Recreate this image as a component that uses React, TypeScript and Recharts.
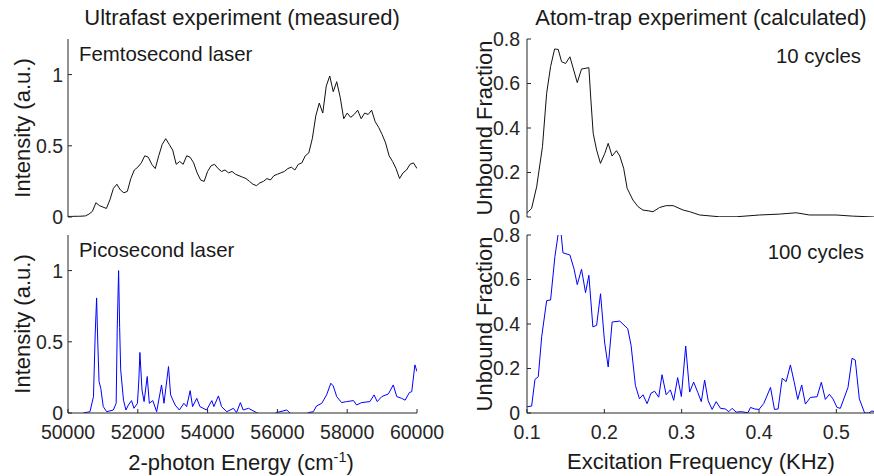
import React from "react";
import { LineChart, Line, XAxis, YAxis } from "recharts";

const FONT = '"Liberation Sans", Arial, Helvetica, sans-serif';
const INK = "#262626";

const energyTicks = [50000, 52000, 54000, 56000, 58000, 60000];
const freqTicks = [0.1, 0.2, 0.3, 0.4, 0.5];
const intensityTicks = [0, 0.5, 1];
const fractionTicks = [0, 0.2, 0.4, 0.6, 0.8];

// femtosecond laser spectrum (measured)
const femtoEnergy = [
  50000, 50100, 50200, 50300, 50400, 50500, 50600, 50700, 50800, 50900,
  51000, 51100, 51200, 51300, 51400, 51500, 51600, 51700, 51800, 51900,
  52000, 52100, 52200, 52300, 52400, 52500, 52600, 52700, 52800, 52900,
  53000, 53100, 53200, 53300, 53400, 53500, 53600, 53700, 53800, 53900,
  54000, 54100, 54200, 54300, 54400, 54500, 54600, 54700, 54800, 54900,
  55000, 55100, 55200, 55300, 55400, 55500, 55600, 55700, 55800, 55900,
  56000, 56100, 56200, 56300, 56400, 56500, 56600, 56700, 56800, 56900,
  57000, 57100, 57200, 57300, 57400, 57500, 57600, 57700, 57800, 57900,
  58000, 58100, 58200, 58300, 58400, 58500, 58600, 58700, 58800, 58900,
  59000, 59100, 59200, 59300, 59400, 59500, 59600, 59700, 59800, 59900,
  60000,
];
const femtoIntensity = [
  0.004, 0.004, 0.005, 0.005, 0.006, 0.008, 0.02, 0.04, 0.1, 0.08,
  0.07, 0.06, 0.12, 0.2, 0.23, 0.19, 0.17, 0.18, 0.27, 0.33,
  0.35, 0.38, 0.43, 0.42, 0.37, 0.34, 0.43, 0.51, 0.55, 0.51,
  0.47, 0.37, 0.39, 0.37, 0.43, 0.42, 0.38, 0.31, 0.26, 0.25,
  0.32, 0.36, 0.37, 0.34, 0.32, 0.33, 0.31, 0.32, 0.3, 0.29,
  0.28, 0.27, 0.25, 0.23, 0.22, 0.24, 0.25, 0.27, 0.26, 0.29,
  0.3, 0.31, 0.32, 0.34, 0.35, 0.33, 0.37, 0.38, 0.43, 0.45,
  0.55, 0.71, 0.8, 0.73, 0.92, 0.99, 0.88, 0.95, 0.84, 0.69,
  0.73, 0.7, 0.72, 0.75, 0.69, 0.73, 0.72, 0.75, 0.67, 0.63,
  0.58, 0.52, 0.43, 0.39, 0.34, 0.27, 0.31, 0.33, 0.37, 0.38,
  0.34,
];

// picosecond laser spectrum (measured)
const picoEnergy = [
  50000, 50400, 50440, 50630, 50730, 50780, 50820, 50850, 50890, 50940,
  51010, 51110, 51300, 51380, 51410, 51450, 51480, 51510, 51590, 51660,
  51730, 51820, 51890, 51990, 52030, 52060, 52120, 52180, 52270, 52330,
  52430, 52540, 52680, 52750, 52880, 52940, 53070, 53190, 53320, 53400,
  53500, 53570, 53690, 53780, 53970, 54120, 54180, 54310, 54400, 54550,
  54740, 54830, 54940, 55020, 55170, 55400, 55600, 55800, 55980, 56270,
  56360, 56550, 56740, 56890, 57030, 57120, 57270, 57410, 57530, 57600,
  57700, 57840, 57980, 58180, 58270, 58410, 58650, 58770, 58860, 58990,
  59180, 59320, 59420, 59560, 59660, 59780, 59850, 59940, 60000,
];
const picoIntensity = [
  -0.02, -0.02, 0, 0.009, 0.115, 0.561, 0.808, 0.52, 0.22, 0.173,
  0.045, 0.009, 0.021, 0.068, 0.585, 1.0, 0.6, 0.303, 0.09, 0.021,
  0.056, 0.087, 0.033, 0.068, 0.232, 0.425, 0.162, 0.08, 0.256, 0.068,
  0.087, 0.009, 0.197, 0.068, 0.326, 0.127, 0.056, 0.021, 0.068, 0.045,
  0.157, 0.045, 0.103, 0.045, 0.021, 0.087, 0.045, 0.12, 0.045, 0.009,
  0.033, 0.003, 0.073, 0.021, 0.033, 0.003, -0.02, -0.02, 0.003, 0.021,
  0, -0.02, -0.02, 0.003, 0.009, 0.049, 0.068, 0.127, 0.209, 0.19,
  0.115, 0.073, 0.08, 0.087, 0.056, 0.073, 0.08, 0.127, 0.08, 0.115,
  0.134, 0.197, 0.115, 0.103, 0.09, 0.143, 0.15, 0.338, 0.291,
];

// atom trap, 10 cycles (calculated)
const freq10 = [
  0.1, 0.1017, 0.106, 0.1125, 0.12, 0.1254, 0.1305, 0.1357, 0.1404, 0.1447,
  0.1499, 0.1555, 0.165, 0.1705, 0.18, 0.1826, 0.1856, 0.19, 0.195, 0.2006,
  0.205, 0.21, 0.2157, 0.22, 0.225, 0.2295, 0.237, 0.2437, 0.25, 0.2566,
  0.263, 0.2716, 0.28, 0.289, 0.302, 0.3103, 0.3232, 0.349, 0.3705, 0.4006,
  0.4264, 0.448, 0.4652, 0.4996, 0.521, 0.55,
];
const fraction10 = [
  0.02, 0.024, 0.039, 0.136, 0.316, 0.556, 0.676, 0.755, 0.753, 0.698,
  0.69, 0.72, 0.604, 0.665, 0.671, 0.526, 0.376, 0.301, 0.241, 0.286,
  0.331, 0.274, 0.298, 0.274, 0.219, 0.129, 0.076, 0.046, 0.031, 0.028,
  0.024, 0.043, 0.051, 0.051, 0.031, 0.024, 0.009, 0.001, 0.001, 0.009,
  0.013, 0.019, 0.009, 0.009, 0.004, 0.0,
];

// atom trap, 100 cycles (calculated)
const freq100 = [
  0.1, 0.106, 0.1103, 0.1146, 0.119, 0.1254, 0.1305, 0.1361, 0.1426, 0.1465,
  0.1555, 0.1607, 0.165, 0.1705, 0.1757, 0.18, 0.1852, 0.19, 0.1951, 0.2003,
  0.205, 0.2101, 0.22, 0.2303, 0.2346, 0.2402, 0.2454, 0.25, 0.2553, 0.2604,
  0.265, 0.2703, 0.2746, 0.28, 0.2854, 0.2897, 0.2948, 0.2996, 0.3052, 0.3103,
  0.3155, 0.321, 0.3254, 0.3297, 0.3343, 0.3394, 0.3446, 0.3502, 0.3566, 0.3609,
  0.3652, 0.3705, 0.377, 0.3856, 0.389, 0.3946, 0.4, 0.4062, 0.4149, 0.42,
  0.4247, 0.43, 0.4351, 0.4406, 0.4454, 0.4501, 0.4552, 0.46, 0.4665, 0.4751,
  0.4806, 0.4858, 0.491, 0.4957, 0.5009, 0.5052, 0.5151, 0.5203, 0.5245, 0.5297,
  0.5366, 0.5418, 0.546, 0.55,
];
const fraction100 = [
  0.028, 0.031, 0.151, 0.163, 0.343, 0.505, 0.508, 0.703, 0.86, 0.72,
  0.71, 0.649, 0.577, 0.646, 0.541, 0.619, 0.387, 0.394, 0.536, 0.319,
  0.207, 0.409, 0.413, 0.379, 0.304, 0.124, 0.064, 0.082, 0.042, 0.089,
  0.098, 0.071, 0.172, 0.082, 0.104, 0.057, 0.159, 0.074, 0.301, 0.094,
  0.139, 0.091, 0.051, 0.148, 0.055, 0.016, 0.051, 0.021, 0.018, 0.006,
  0.021, 0.004, 0.006, 0.001, 0.025, 0.018, 0.016, 0.043, 0.115, 0.016,
  0.018, 0.156, 0.141, 0.216, 0.141, 0.061, 0.126, 0.04, 0.07, 0.073,
  0.138, 0.061, 0.084, 0.063, 0.025, 0.021, 0.115, 0.246, 0.238, 0.064,
  0.0, 0.0, 0.009, 0.005,
];

const zip = (xs: number[], ys: number[]) => xs.map((x, i) => ({ x, y: ys[i] }));

type PanelProps = {
  left: number;
  top: number;
  width: number;
  height: number;
  margin: { top: number; right: number; bottom: number; left: number };
  data: { x: number; y: number }[];
  color: string;
  xDomain: [number, number];
  xTicks: number[];
  yDomain: [number, number];
  yTicks: number[];
  yWidth: number;
  yTickMargin: number;
  xLabels: boolean;
};

const tickStyle = { fontSize: 19.5, fill: INK, fontFamily: FONT };
const axisStroke = { stroke: INK, strokeWidth: 1 };

function Panel(p: PanelProps) {
  return (
    <div style={{ position: "absolute", left: p.left, top: p.top }}>
      <LineChart width={p.width} height={p.height} data={p.data} margin={p.margin}>
        <XAxis
          dataKey="x"
          type="number"
          domain={p.xDomain}
          ticks={p.xTicks}
          interval={0}
          allowDataOverflow
          height={p.xLabels ? 63 : 0}
          tick={p.xLabels ? tickStyle : false}
          tickSize={-4}
          tickMargin={16}
          axisLine={axisStroke}
          tickLine={axisStroke}
        />
        <XAxis
          xAxisId="top"
          orientation="top"
          dataKey="x"
          type="number"
          domain={p.xDomain}
          ticks={p.xTicks}
          interval={0}
          allowDataOverflow
          height={0}
          tick={false}
          tickSize={-4}
          axisLine={axisStroke}
          tickLine={axisStroke}
        />
        <YAxis
          type="number"
          domain={p.yDomain}
          ticks={p.yTicks}
          interval={0}
          allowDataOverflow
          width={p.yWidth}
          tick={tickStyle}
          tickSize={-4}
          tickMargin={p.yTickMargin}
          axisLine={axisStroke}
          tickLine={axisStroke}
        />
        <YAxis
          yAxisId="right"
          orientation="right"
          type="number"
          domain={p.yDomain}
          ticks={p.yTicks}
          interval={0}
          allowDataOverflow
          width={0}
          tick={false}
          tickSize={-4}
          axisLine={axisStroke}
          tickLine={axisStroke}
        />
        <Line
          type="linear"
          dataKey="y"
          stroke={p.color}
          strokeWidth={1}
          dot={false}
          isAnimationActive={false}
        />
      </LineChart>
    </div>
  );
}

export default function App() {
  const txt = { fontFamily: FONT, fill: "#1a1a1a" };
  return (
    <div
      style={{
        position: "absolute",
        left: 0,
        top: 0,
        width: 874,
        height: 476,
        overflow: "hidden",
        background: "#fff",
      }}
    >
      <Panel
        left={0}
        top={0}
        width={450}
        height={230}
        margin={{ top: 39, right: 33, bottom: 13, left: 8 }}
        data={zip(femtoEnergy, femtoIntensity)}
        color="#111111"
        xDomain={[50000, 60000]}
        xTicks={energyTicks}
        yDomain={[0, 1.25]}
        yTicks={intensityTicks}
        yWidth={60}
        yTickMargin={9}
        xLabels={false}
      />
      <Panel
        left={0}
        top={200}
        width={450}
        height={276}
        margin={{ top: 35, right: 33, bottom: 0, left: 8 }}
        data={zip(picoEnergy, picoIntensity)}
        color="#0000ff"
        xDomain={[50000, 60000]}
        xTicks={energyTicks}
        yDomain={[0, 1.25]}
        yTicks={intensityTicks}
        yWidth={60}
        yTickMargin={9}
        xLabels={true}
      />
      <Panel
        left={440}
        top={0}
        width={436}
        height={230}
        margin={{ top: 39, right: 1, bottom: 13, left: 0 }}
        data={zip(freq10, fraction10)}
        color="#111111"
        xDomain={[0.1, 0.55]}
        xTicks={freqTicks}
        yDomain={[0, 0.8]}
        yTicks={fractionTicks}
        yWidth={87}
        yTickMargin={11}
        xLabels={false}
      />
      <Panel
        left={440}
        top={200}
        width={436}
        height={276}
        margin={{ top: 35, right: 1, bottom: 0, left: 0 }}
        data={zip(freq100, fraction100)}
        color="#0000ff"
        xDomain={[0.1, 0.55]}
        xTicks={freqTicks}
        yDomain={[0, 0.8]}
        yTicks={fractionTicks}
        yWidth={87}
        yTickMargin={11}
        xLabels={true}
      />
      <svg
        width={874}
        height={476}
        style={{ position: "absolute", left: 0, top: 0, pointerEvents: "none" }}
      >
        <text x={242} y={25} textAnchor="middle" fontSize={22} {...txt}>
          Ultrafast experiment (measured)
        </text>
        <text x={701} y={25} textAnchor="middle" fontSize={22} {...txt}>
          Atom-trap experiment (calculated)
        </text>
        <text transform="translate(30,128) rotate(-90)" textAnchor="middle" fontSize={22} {...txt}>
          Intensity (a.u.)
        </text>
        <text transform="translate(30,324) rotate(-90)" textAnchor="middle" fontSize={22} {...txt}>
          Intensity (a.u.)
        </text>
        <text transform="translate(492,128) rotate(-90)" textAnchor="middle" fontSize={22} {...txt}>
          Unbound Fraction
        </text>
        <text transform="translate(492,324) rotate(-90)" textAnchor="middle" fontSize={22} {...txt}>
          Unbound Fraction
        </text>
        <text x={79} y={61} fontSize={20.4} {...txt}>
          Femtosecond laser
        </text>
        <text x={79} y={257} fontSize={20.4} {...txt}>
          Picosecond laser
        </text>
        <text x={861} y={63} textAnchor="end" fontSize={20.4} {...txt}>
          10 cycles
        </text>
        <text x={864} y={259} textAnchor="end" fontSize={20.4} {...txt}>
          100 cycles
        </text>
        <text x={241} y={470} textAnchor="middle" fontSize={22} {...txt}>
          2-photon Energy (cm
          <tspan dy={-8} fontSize={14.5}>-1</tspan>
          <tspan dy={8}>)</tspan>
        </text>
        <text x={701} y={469} textAnchor="middle" fontSize={22} {...txt}>
          Excitation Frequency (KHz)
        </text>
      </svg>
    </div>
  );
}
